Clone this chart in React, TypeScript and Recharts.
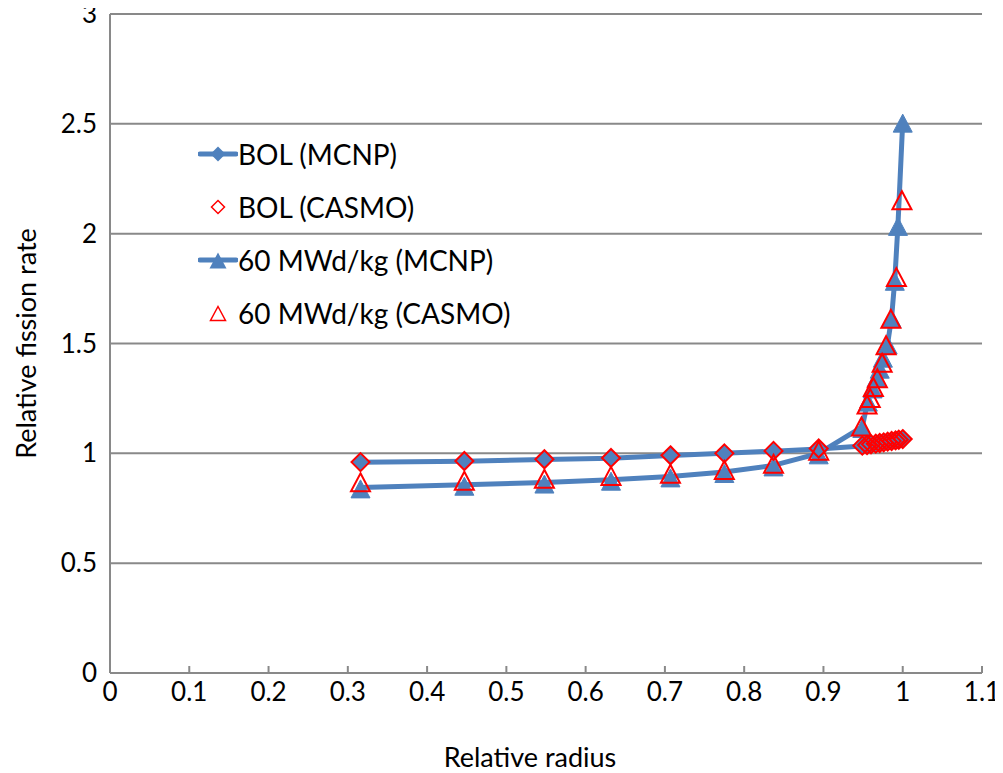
import React from "react"
import { ScatterChart, Scatter, XAxis, YAxis, CartesianGrid, Legend } from "recharts"

// relative radius of each ring
const bolRadius = [0.316, 0.447, 0.548, 0.632, 0.707, 0.775, 0.837, 0.894, 0.949, 0.955, 0.960, 0.966, 0.971, 0.976, 0.981, 0.986, 0.991, 0.995, 1.0]
const bolMcnp = [0.959, 0.964, 0.972, 0.978, 0.99, 1.0, 1.01, 1.02, 1.033, 1.037, 1.04, 1.043, 1.046, 1.049, 1.052, 1.055, 1.058, 1.061, 1.064]
const bolCasmo = [0.96, 0.965, 0.973, 0.979, 0.991, 1.0, 1.011, 1.022, 1.035, 1.038, 1.041, 1.044, 1.047, 1.05, 1.053, 1.056, 1.059, 1.062, 1.065]

const burnRadiusMcnp = [0.316, 0.447, 0.548, 0.632, 0.707, 0.775, 0.837, 0.894, 0.949, 0.956, 0.962, 0.967, 0.971, 0.975, 0.981, 0.986, 0.99, 0.994, 1.0]
const burnMcnp = [0.845, 0.857, 0.867, 0.88, 0.895, 0.915, 0.945, 1.0, 1.12, 1.24, 1.3, 1.35, 1.39, 1.44, 1.5, 1.62, 1.79, 2.04, 2.51]

const burnRadiusCasmo = [0.316, 0.447, 0.548, 0.632, 0.707, 0.775, 0.837, 0.894, 0.948, 0.955, 0.959, 0.963, 0.968, 0.974, 0.979, 0.985, 0.992, 0.999]
const burnCasmo = [0.866, 0.873, 0.882, 0.895, 0.905, 0.922, 0.95, 1.01, 1.12, 1.22, 1.25, 1.3, 1.34, 1.41, 1.49, 1.61, 1.8, 2.15]

const xTicks = [0, 0.1, 0.2, 0.3, 0.4, 0.5, 0.6, 0.7, 0.8, 0.9, 1, 1.1]
const yTicks = [0, 0.5, 1, 1.5, 2, 2.5, 3]

const BLUE = "#4f81bd"
const RED = "#ff0000"
const GRAY = "#898989"
const FONT = "Lato, 'Open Sans', sans-serif"

const toPoints = (xs: number[], ys: number[]) => xs.map((x, i) => ({ x, y: ys[i] }))

const bolMcnpData = toPoints(bolRadius, bolMcnp)
const bolCasmoData = toPoints(bolRadius, bolCasmo)
const burnMcnpData = toPoints(burnRadiusMcnp, burnMcnp)
const burnCasmoData = toPoints(burnRadiusCasmo, burnCasmo)

const diamondPts = (cx: number, cy: number, r: number) =>
  `${cx},${cy - r} ${cx + r},${cy} ${cx},${cy + r} ${cx - r},${cy}`
const trianglePts = (cx: number, cy: number, w: number, h: number) =>
  `${cx},${cy - h / 2 - 1} ${cx + w / 2},${cy + h / 2} ${cx - w / 2},${cy + h / 2}`

const FilledDiamond = (p: any) => <polygon points={diamondPts(p.cx, p.cy, 8.5)} fill={BLUE} stroke={BLUE} strokeWidth={1} />
const OpenDiamond = (p: any) => <polygon points={diamondPts(p.cx, p.cy, 9)} fill="none" stroke={RED} strokeWidth={2} />
const FilledTriangle = (p: any) => <polygon points={trianglePts(p.cx, p.cy + 2, 19, 17)} fill={BLUE} stroke={BLUE} strokeWidth={1} />
const OpenTriangle = (p: any) => <polygon points={trianglePts(p.cx, p.cy, 19, 17)} fill="none" stroke={RED} strokeWidth={2} />

const legendRows = [
  { name: "BOL (MCNP)", line: true, marker: "diamond" },
  { name: "BOL (CASMO)", line: false, marker: "diamond" },
  { name: "60 MWd/kg (MCNP)", line: true, marker: "triangle" },
  { name: "60 MWd/kg (CASMO)", line: false, marker: "triangle" },
]

function LegendBox() {
  return (
    <div style={{ fontFamily: FONT, fontSize: 28, color: "#000", lineHeight: 1 }}>
      {legendRows.map((r) => (
        <div key={r.name} style={{ display: "flex", alignItems: "center", height: 53, whiteSpace: "nowrap" }}>
          <svg width={40} height={24}>
            {r.line && <line x1={2} y1={12} x2={38} y2={12} stroke={BLUE} strokeWidth={5} strokeLinecap="round" />}
            {r.marker === "diamond" && r.line && <polygon points={diamondPts(20, 12, 7.5)} fill={BLUE} />}
            {r.marker === "diamond" && !r.line && <polygon points={diamondPts(20, 12, 6.5)} fill="none" stroke={RED} strokeWidth={1.5} />}
            {r.marker === "triangle" && r.line && <polygon points={trianglePts(20, 13, 17, 15)} fill={BLUE} />}
            {r.marker === "triangle" && !r.line && <polygon points={trianglePts(20, 13, 15, 13)} fill="none" stroke={RED} strokeWidth={1.5} />}
          </svg>
          <span>{r.name}</span>
        </div>
      ))}
    </div>
  )
}

const XTick = (p: any) => (
  <g>
    <line x1={p.x} y1={p.y} x2={p.x} y2={p.y - 7} stroke={GRAY} strokeWidth={2} />
    <text x={p.x} y={p.y + 28} textAnchor="middle" fontFamily={FONT} fontSize={26} fill="#000">
      {p.payload.value}
    </text>
  </g>
)

const YTick = (p: any) => (
  <text x={p.x} y={p.y + 9} textAnchor="end" fontFamily={FONT} fontSize={26} fill="#000">
    {p.payload.value}
  </text>
)

export default function App() {
  return (
    <div style={{ margin: "-8px 0 0 -8px", width: 1003, height: 773 }}>
      <ScatterChart width={1003} height={773} margin={{ top: 14, right: 21, bottom: 0, left: 8 }}>
        <CartesianGrid vertical={false} stroke={GRAY} strokeWidth={2} />
        <XAxis
          type="number"
          dataKey="x"
          domain={[0, 1.1]}
          ticks={xTicks}
          height={100}
          tickSize={0}
          tickMargin={0}
          tickLine={false}
          axisLine={{ stroke: GRAY, strokeWidth: 2 }}
          tick={XTick}
          label={(props: any) => (
            <text
              x={530}
              y={props.viewBox.y + 94}
              textAnchor="middle"
              fontFamily={FONT}
              fontSize={27}
              fill="#000"
            >
              Relative radius
            </text>
          )}
        />
        <YAxis
          type="number"
          dataKey="y"
          domain={[0, 3]}
          ticks={yTicks}
          width={102}
          tickSize={0}
          tickMargin={13}
          tickLine={false}
          axisLine={{ stroke: GRAY, strokeWidth: 2 }}
          tick={YTick}
          label={(props: any) => {
            const cx = 25
            const cy = props.viewBox.y + props.viewBox.height / 2
            return (
              <text
                x={cx}
                y={cy}
                transform={`rotate(-90 ${cx} ${cy})`}
                textAnchor="middle"
                dominantBaseline="central"
                fontFamily={FONT}
                fontSize={27}
                fill="#000"
              >
                Relative fission rate
              </text>
            )
          }}
        />
        <YAxis
          yAxisId="r"
          orientation="right"
          type="number"
          domain={[0, 3]}
          width={0}
          tick={false}
          tickLine={false}
          axisLine={{ stroke: GRAY, strokeWidth: 2 }}
        />
        <Legend
          content={() => <LegendBox />}
          layout="horizontal"
          verticalAlign="middle"
          align="center"
          wrapperStyle={{ left: 198, top: 127, width: 360 }}
        />
        <Scatter
          name="BOL (MCNP)"
          data={bolMcnpData}
          line={{ stroke: BLUE, strokeWidth: 5 }}
          lineType="joint"
          shape={FilledDiamond}
          isAnimationActive={false}
        />
        <Scatter
          name="60 MWd/kg (MCNP)"
          data={burnMcnpData}
          line={{ stroke: BLUE, strokeWidth: 5 }}
          lineType="joint"
          shape={FilledTriangle}
          isAnimationActive={false}
        />
        <Scatter name="BOL (CASMO)" data={bolCasmoData} shape={OpenDiamond} isAnimationActive={false} />
        <Scatter name="60 MWd/kg (CASMO)" data={burnCasmoData} shape={OpenTriangle} isAnimationActive={false} />
      </ScatterChart>
    </div>
  )
}
